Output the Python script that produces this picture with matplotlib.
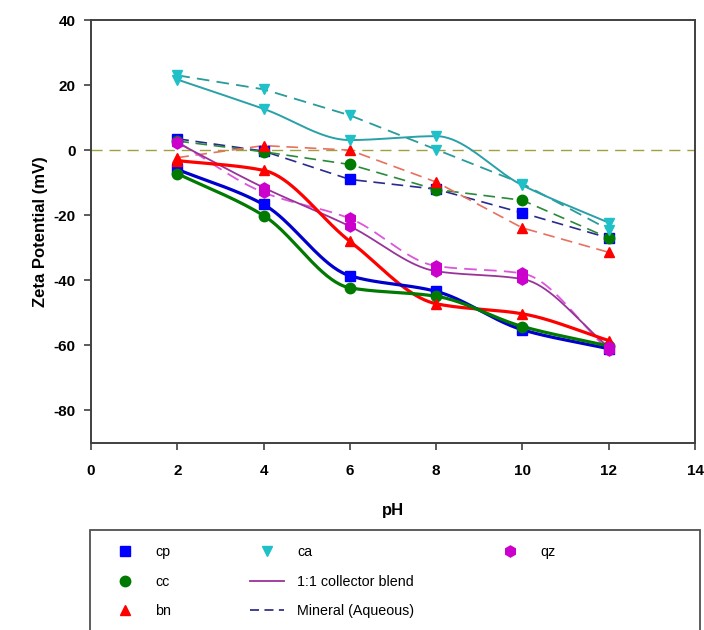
import numpy as np
import matplotlib
matplotlib.use('Agg')
import matplotlib.pyplot as plt
from matplotlib.lines import Line2D
from matplotlib.patches import Rectangle

plt.rcParams['font.family'] = ['Liberation Sans', 'DejaVu Sans']
plt.rcParams['axes.unicode_minus'] = False

ph = [2, 4, 6, 8, 10, 12]

# 1:1 collector blend (solid)
cp_blend = [-5.9, -16.7, -38.6, -43.4, -55.2, -61.0]
cc_blend = [-7.2, -20.1, -42.3, -44.9, -54.2, -60.2]
bn_blend = [-3.2, -6.2, -28.0, -47.2, -50.3, -58.5]
ca_blend = [21.7, 12.7, 3.1, 4.3, -10.8, -22.3]
qz_blend = [2.3, -11.5, -23.4, -37.2, -39.6, -60.5]

# mineral (aqueous) (dashed)
cp_aq = [3.5, -0.3, -9.0, -12.0, -19.3, -27.0]
cc_aq = [2.8, -0.5, -4.4, -12.1, -15.4, -27.0]
bn_aq = [-2.3, 1.4, 0.0, -9.8, -23.9, -31.4]
ca_aq = [23.0, 18.7, 10.7, 0.2, -10.3, -24.4]
qz_aq = [2.6, -13.0, -21.0, -35.6, -37.9, -61.5]


def pchip(x, y, n=200):
    x = np.asarray(x, float)
    y = np.asarray(y, float)
    h = np.diff(x)
    d = np.diff(y) / h
    m = np.zeros_like(y)
    for k in range(1, len(x) - 1):
        if d[k - 1] * d[k] > 0:
            w1 = 2 * h[k] + h[k - 1]
            w2 = h[k] + 2 * h[k - 1]
            m[k] = (w1 + w2) / (w1 / d[k - 1] + w2 / d[k])
    m[0] = d[0]
    m[-1] = d[-1]
    xs = np.linspace(x[0], x[-1], n)
    idx = np.clip(np.searchsorted(x, xs) - 1, 0, len(x) - 2)
    t = (xs - x[idx]) / h[idx]
    h00 = 2 * t**3 - 3 * t**2 + 1
    h10 = t**3 - 2 * t**2 + t
    h01 = -2 * t**3 + 3 * t**2
    h11 = t**3 - t**2
    ys = h00 * y[idx] + h10 * h[idx] * m[idx] + h01 * y[idx + 1] + h11 * h[idx] * m[idx + 1]
    return xs, ys


fig = plt.figure(figsize=(7.04, 6.3), dpi=100)
ax = fig.add_axes([91 / 704, 1 - 443 / 630, 604 / 704, 423 / 630])

ax.axhline(0, color='#a0a040', lw=1.0, ls=(0, (8, 5)), zorder=1)

dash = (0, (7, 4))
ms = 7.5

# aqueous dashed lines
ax.plot(ph, cp_aq, color='#2a2a90', lw=1.2, ls=dash, zorder=2)
ax.plot(ph, cc_aq, color='#2a8a3a', lw=1.2, ls=dash, zorder=2)
ax.plot(ph, bn_aq, color='#e8705f', lw=1.2, ls=dash, zorder=2)
ax.plot(ph, ca_aq, color='#2a9a9a', lw=1.3, ls=dash, zorder=2)
xs, ys = pchip(ph, qz_aq)
ax.plot(xs, ys, color='#dd55dd', lw=1.3, ls=dash, zorder=2)

# blend smooth lines
xs, ys = pchip(ph, ca_blend)
ax.plot(xs, ys, color='#2aa0a8', lw=1.4, zorder=3)
xs, ys = pchip(ph, qz_blend)
ax.plot(xs, ys, color='#993399', lw=1.3, zorder=3)
xs, ys = pchip(ph, bn_blend)
ax.plot(xs, ys, color='#ff0000', lw=2.3, zorder=3)
xs, ys = pchip(ph, cp_blend)
ax.plot(xs, ys, color='#0000cc', lw=2.3, zorder=3)
xs, ys = pchip(ph, cc_blend)
ax.plot(xs, ys, color='#007a00', lw=2.3, zorder=3)

# markers
for vals in (cp_aq, cp_blend):
    ax.plot(ph, vals, 's', color='#0000ff', ms=ms - 0.5, zorder=4)
for vals in (cc_aq, cc_blend):
    ax.plot(ph, vals, 'o', color='#007a00', ms=ms, zorder=4)
for vals in (bn_aq, bn_blend):
    ax.plot(ph, vals, '^', color='#ff0000', ms=ms, zorder=4)
for vals in (ca_aq, ca_blend):
    ax.plot(ph, vals, 'v', color='#20c0c8', ms=ms, zorder=4)
for vals in (qz_aq, qz_blend):
    ax.plot(ph, vals, 'h', color='#cc00cc', ms=ms + 0.5, zorder=4)

ax.set_xlim(0, 14)
ax.set_ylim(-90, 40)
ax.set_xticks(range(0, 15, 2))
ax.set_yticks(range(-80, 41, 20))
for s in ax.spines.values():
    s.set_color('#404040')
    s.set_linewidth(1.4)
ax.tick_params(direction='out', length=5, width=1.2, color='#404040', labelsize=11)
ax.tick_params(axis='x', pad=10)
ax.tick_params(axis='y', pad=6)
for lab in ax.get_xticklabels() + ax.get_yticklabels():
    lab.set_fontweight('bold')
ax.set_xlabel('pH', fontsize=12, fontweight='bold', labelpad=18)
ax.set_ylabel('Zeta Potential (mV)', fontsize=12, fontweight='bold', labelpad=4)

blank = Line2D([], [], ls='none')
handles = [
    Line2D([], [], ls='none', marker='s', color='#0000ff', ms=6.5),
    Line2D([], [], ls='none', marker='o', color='#007a00', ms=7.5),
    Line2D([], [], ls='none', marker='^', color='#ff0000', ms=7.5),
    Line2D([], [], ls='none', marker='v', color='#20c0c8', ms=7.5),
    Line2D([], [], color='#993399', lw=1.3),
    Line2D([], [], color='#333388', lw=1.3, ls=(0, (5, 3))),
    Line2D([], [], ls='none', marker='h', color='#cc00cc', ms=8),
    blank, blank,
]
labels = ['cp', 'cc', 'bn', 'ca', '1:1 collector blend', 'Mineral (Aqueous)', 'qz', '', '']
fig.legend(handles, labels, loc='upper left', bbox_to_anchor=(108 / 704, 1 - 545 / 630),
           ncol=3, frameon=False, fontsize=10.3, handlelength=2.4, handletextpad=0.9,
           columnspacing=5.5, labelspacing=1.1, borderpad=0, borderaxespad=0)
fig.patches.append(Rectangle((90 / 704, -0.05), 610 / 704, 1 - 530 / 630 + 0.05,
                             transform=fig.transFigure, fill=False,
                             edgecolor='#505050', lw=1.3))

fig.savefig('out.png', dpi=100)
